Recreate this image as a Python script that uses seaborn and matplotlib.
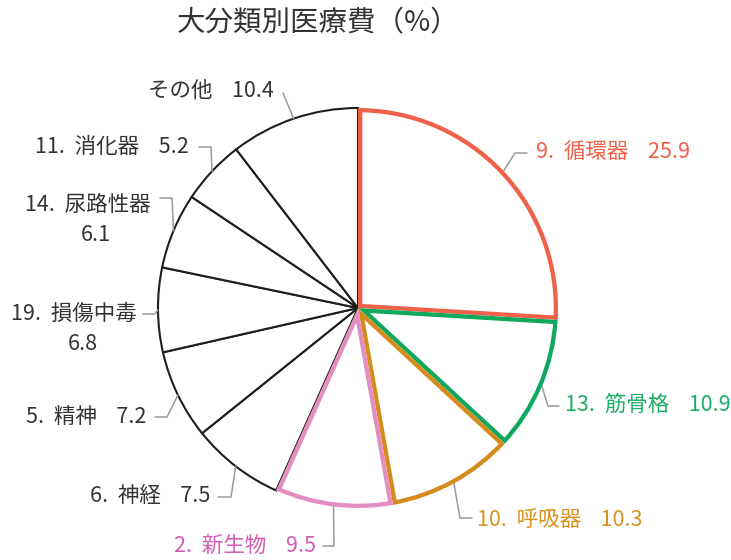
import numpy as np
import matplotlib
matplotlib.use("Agg")
import matplotlib.pyplot as plt
import seaborn as sns

# ---- data ----
categories = ["9. 循環器", "13. 筋骨格", "10. 呼吸器", "2. 新生物", "6. 神経",
              "5. 精神", "19. 損傷中毒", "14. 尿路性器", "11. 消化器", "その他"]
values = [25.9, 10.9, 10.3, 9.5, 7.5, 7.2, 6.8, 6.1, 5.2, 10.4]
value_labels = ["25.9", "10.9", "10.3", "9.5", "7.5", "7.2", "6.8", "6.1", "5.2", "10.4"]
title = "大分類別医療費（%）"

# ---- styling ----
sns.set_theme(style="white")
plt.rcParams["font.family"] = ["Noto Sans CJK JP", "DejaVu Sans"]

edge_colors = {"9. 循環器": "#EF6149", "13. 筋骨格": "#0FA85C",
               "10. 呼吸器": "#D68C1C", "2. 新生物": "#E38DC0"}
text_colors = {"9. 循環器": "#EF6149", "13. 筋骨格": "#1BAE66",
               "10. 呼吸器": "#D9921F", "2. 新生物": "#D35DB0"}
default_text = "#333333"
leader_color = "#9a9a9a"
FS = 15.5

W, H = 731, 560
def Y(py):
    return H - py

# label layout in pixel coordinates (x, y from top)
layout = {
    "9. 循環器":   dict(elbow=(515, 153), end=(527, 153), text=(536, 152), ha="left"),
    "13. 筋骨格":  dict(elbow=(548, 406), end=(559, 406), text=(565, 405), ha="left"),
    "10. 呼吸器":  dict(elbow=(460, 518), end=(472, 518), text=(477, 520), ha="left"),
    "2. 新生物":   dict(elbow=(334, 546), end=(323, 546), text=(316, 546), ha="right"),
    "6. 神経":     dict(elbow=(231, 497), end=(218, 497), text=(210, 496), ha="right"),
    "5. 精神":     dict(elbow=(167, 417), end=(155, 417), text=(146, 417), ha="right"),
    "19. 損傷中毒": dict(elbow=(155, 314), end=(143, 314), text=(137, 314), ha="right",
                      second=(83, 344)),
    "14. 尿路性器": dict(elbow=(172, 198), end=(160, 198), text=(151, 205), ha="right",
                      second=(96, 235)),
    "11. 消化器":  dict(elbow=(211, 147), end=(199, 147), text=(189, 147), ha="right"),
    "その他":      dict(elbow=(283, 93), end=None, text=(274, 91), ha="right"),
}

fig = plt.figure(figsize=(W / 100, H / 100), dpi=100)
ax = fig.add_axes([0, 0, 1, 1])

cx, cy, R = 358, Y(308), 200
wedges, _ = ax.pie(values, startangle=90, counterclock=False, center=(cx, cy),
                   radius=R, frame=True,
                   wedgeprops=dict(facecolor="white", edgecolor="#1e1e1e",
                                   linewidth=1.5, joinstyle="miter"))
ax.set_xlim(0, W)
ax.set_ylim(0, H)
ax.set_aspect("equal")
ax.axis("off")

for w, cat in zip(wedges, categories):
    if cat in edge_colors:
        w.set_edgecolor(edge_colors[cat])
        w.set_linewidth(6.2)
        w.set_zorder(3)
        w.set_clip_on(True)
        w.set_clip_path(w)

# labels with leader lines
total = sum(values)
cum = 0.0
for cat, v, vl in zip(categories, values, value_labels):
    mid = (cum + v / 2) / total * 2 * np.pi
    cum += v
    ax0 = cx + R * np.sin(mid)
    ay0 = cy + R * np.cos(mid)
    L = layout[cat]
    xs = [ax0, L["elbow"][0]]
    ys = [ay0, Y(L["elbow"][1])]
    if L["end"] is not None:
        xs.append(L["end"][0])
        ys.append(Y(L["end"][1]))
    ax.plot(xs, ys, color=leader_color, lw=1.1, zorder=1, solid_joinstyle="miter")
    col = text_colors.get(cat, default_text)
    name = cat.replace(". ", ".  ", 1)
    tx, ty = L["text"]
    if "second" in L:
        ax.text(tx, Y(ty), name, ha=L["ha"], va="center", fontsize=FS, color=col)
        sx, sy = L["second"]
        ax.text(sx, Y(sy), vl, ha="center", va="center", fontsize=FS, color=col)
    else:
        ax.text(tx, Y(ty), f"{name}    {vl}",
                ha=L["ha"], va="center", fontsize=FS, color=col)

ax.text(318, Y(23), title, ha="center", va="center", fontsize=20.5, color="#333333")

fig.savefig("out.png", dpi=100, facecolor="white")
